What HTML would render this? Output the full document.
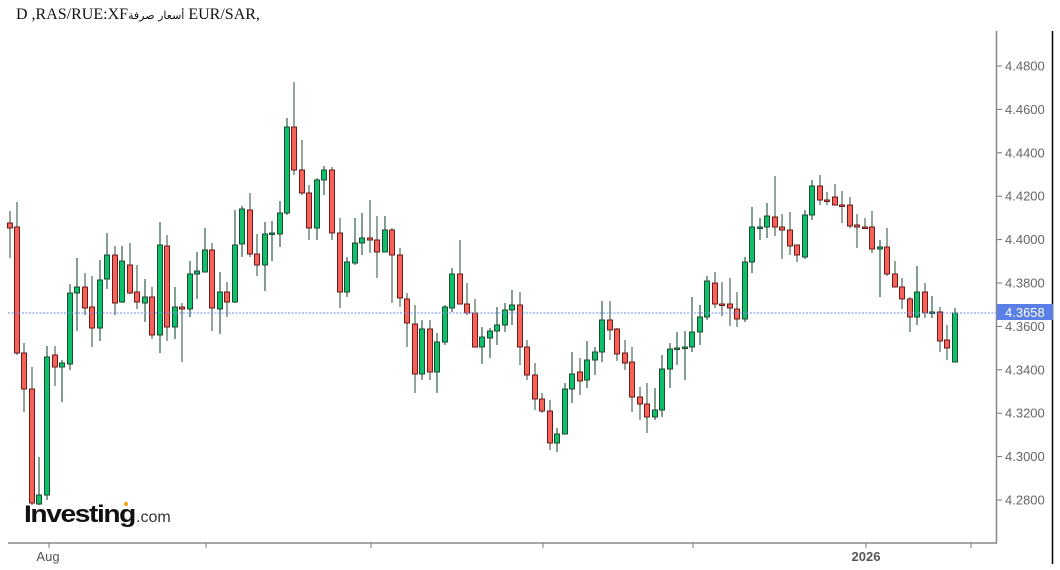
<!DOCTYPE html>
<html><head><meta charset="utf-8"><style>
body{margin:0;background:#fff;width:1060px;height:570px;overflow:hidden}
svg{display:block;font-family:"Liberation Sans",sans-serif}
</style></head><body>
<svg id="s" width="1060" height="570" xmlns="http://www.w3.org/2000/svg">
<rect width="1060" height="570" fill="#fff"/>
<text x="16" y="19" font-family="Liberation Serif, DejaVu Serif, serif" font-size="16" fill="#111">D ,RAS/RUE:XF<tspan font-family="DejaVu Sans, sans-serif" font-size="11">أسعار صرفة</tspan> EUR/SAR,</text>
<line x1="996.5" y1="31" x2="996.5" y2="543" stroke="#888" stroke-width="1.5"/>
<line x1="1052.5" y1="31" x2="1052.5" y2="564" stroke="#000" stroke-width="1.5"/>
<line x1="8" y1="543" x2="997" y2="543" stroke="#888" stroke-width="1.5"/>
<g id="g"></g>
<g stroke="#777" stroke-width="1">
<line x1="49" y1="543" x2="49" y2="548"/><line x1="206" y1="543" x2="206" y2="548"/><line x1="371" y1="543" x2="371" y2="548"/><line x1="543" y1="543" x2="543" y2="548"/><line x1="693" y1="543" x2="693" y2="548"/><line x1="866" y1="543" x2="866" y2="548"/><line x1="971" y1="543" x2="971" y2="548"/>
</g>
<text x="48" y="561" font-size="13" fill="#555" text-anchor="middle">Aug</text>
<text x="866" y="561" font-size="13" font-weight="bold" fill="#555" text-anchor="middle">2026</text>
<text x="24" y="522" font-size="24" font-weight="bold" fill="#111" letter-spacing="-1.2" textLength="111" lengthAdjust="spacingAndGlyphs">Investing</text>
<text x="136" y="522" font-size="16" fill="#333">.com</text>
<circle cx="126" cy="504" r="2.2" fill="#f5a623"/>
<line x1="8" y1="313" x2="996" y2="313" stroke="#6f8ff0" stroke-width="1" stroke-dasharray="2,1.5"/>
<rect x="997" y="304" width="56" height="16" fill="#5a7fe6"/>
<text x="1005" y="317" font-size="13" fill="#fff">4.3658</text>
</svg>
<script>
var d=[[10,223,228,211,258,0],[17,227,353,202,355,0],[24,353,389,343,412,0],[32,389,503,367,505,0],[39,504,495,457,505,1],[47,495,357,346,500,1],[55,355,367,346,386,0],[62,367,363,360,402,1],[70,364,293,284,370,1],[77,293,287,258,331,1],[85,287,308,273,315,0],[92,307,328,276,347,0],[100,328,280,260,341,1],[107,279,255,233,289,1],[115,255,303,246,315,0],[122,302,261,246,303,1],[130,265,293,243,294,0],[137,292,302,265,309,0],[145,303,297,279,322,1],[152,297,335,287,339,0],[160,335,245,222,353,1],[167,246,327,235,341,0],[175,327,307,287,339,1],[182,307,309,303,362,0],[190,309,274,261,317,1],[197,274,271,252,299,1],[205,272,250,228,272,1],[212,250,308,243,331,0],[220,309,292,272,334,1],[227,292,302,282,317,0],[235,302,245,210,303,1],[242,244,209,206,257,1],[250,210,254,193,257,0],[257,254,265,234,276,0],[265,265,234,222,291,1],[272,234,233,221,261,1],[280,234,213,201,247,1],[287,213,127,118,215,1],[294,127,170,82,175,0],[302,170,193,140,195,0],[309,193,228,185,240,0],[317,228,180,178,240,1],[324,180,170,166,195,1],[332,170,233,167,240,0],[340,233,292,218,308,0],[347,292,262,257,297,1],[355,263,243,218,265,1],[362,243,238,213,255,1],[370,238,240,200,253,0],[377,240,252,216,278,0],[385,252,230,216,252,1],[392,230,255,228,303,0],[400,255,298,248,307,0],[407,299,323,293,347,0],[415,324,374,305,393,0],[422,374,329,320,380,1],[430,329,372,320,380,0],[437,372,342,333,393,1],[445,342,307,305,345,1],[452,308,274,268,312,1],[460,274,304,240,304,0],[467,304,313,283,315,0],[475,313,347,299,347,0],[482,347,337,327,364,1],[490,338,331,328,358,1],[497,331,325,307,345,1],[505,325,310,303,332,1],[512,310,305,290,325,1],[520,305,347,292,365,0],[527,347,375,340,380,0],[535,375,399,363,410,0],[542,399,411,393,413,0],[550,411,443,400,450,0],[557,443,434,428,452,1],[565,434,389,383,434,1],[572,389,374,352,403,1],[580,372,381,358,395,0],[587,380,360,341,388,1],[595,360,352,347,375,1],[602,352,320,301,362,1],[610,320,330,301,340,0],[617,329,354,328,361,0],[625,353,363,340,370,0],[632,362,397,347,412,0],[640,397,404,387,420,0],[647,404,417,383,433,0],[655,417,410,388,420,1],[662,410,369,355,417,1],[670,369,349,343,388,1],[677,349,348,332,365,1],[685,348,347,331,380,1],[692,347,332,297,352,1],[700,332,317,305,345,1],[707,317,281,276,320,1],[715,283,304,272,308,0],[722,304,305,282,316,0],[730,304,308,278,326,0],[737,309,319,292,327,0],[745,319,262,257,322,1],[752,262,227,207,273,1],[760,228,227,218,240,1],[767,227,216,203,238,1],[775,217,227,176,236,0],[782,227,230,214,259,0],[790,230,246,212,255,0],[797,245,255,245,262,0],[805,257,215,210,259,1],[812,215,186,180,220,1],[820,186,200,175,205,0],[827,200,201,192,205,0],[835,197,205,184,205,0],[842,205,206,191,223,0],[850,205,226,197,228,0],[857,225,227,214,248,0],[865,227,228,218,229,0],[872,227,249,211,253,0],[880,249,247,240,297,1],[887,247,274,228,276,0],[895,274,287,261,287,0],[902,287,299,278,309,0],[910,299,317,297,332,0],[917,317,292,266,325,1],[925,292,313,283,318,0],[932,313,312,296,318,1],[940,312,341,307,352,0],[947,340,348,325,360,0],[955,362,313,308,362,1]];
var h='';d.forEach(function(c){var x=c[0],t=Math.min(c[1],c[2]),b=Math.max(c[1],c[2]),up=c[5];
h+='<line x1="'+x+'" y1="'+c[3]+'" x2="'+x+'" y2="'+c[4]+'" stroke="'+(up?'#2f5e45':'#4a6a55')+'" stroke-width="1.2"/>';
var hh=Math.max(b-t,1.5);
h+='<rect x="'+(x-2.5)+'" y="'+t+'" width="5" height="'+hh+'" fill="'+(up?'#0fc06a':'#f4625a')+'" stroke="'+(up?'#1e4a32':'#6e1a18')+'" stroke-width="1"/>';});
document.getElementById('g').innerHTML=h;
var s='',ns='http://www.w3.org/2000/svg';
for(var k=0;k<=10;k++){var y=66+k*43.4,v=(4.48-k*0.02).toFixed(4);
s+='<line x1="997" y1="'+y+'" x2="1002" y2="'+y+'" stroke="#777"/><text x="1005" y="'+(y+4.5)+'" font-size="13" fill="#666">'+v+'</text>';}
var g=document.createElementNS(ns,'g');g.innerHTML=s;document.getElementById('s').insertBefore(g,document.getElementById('g'));
</script>
</body></html>
